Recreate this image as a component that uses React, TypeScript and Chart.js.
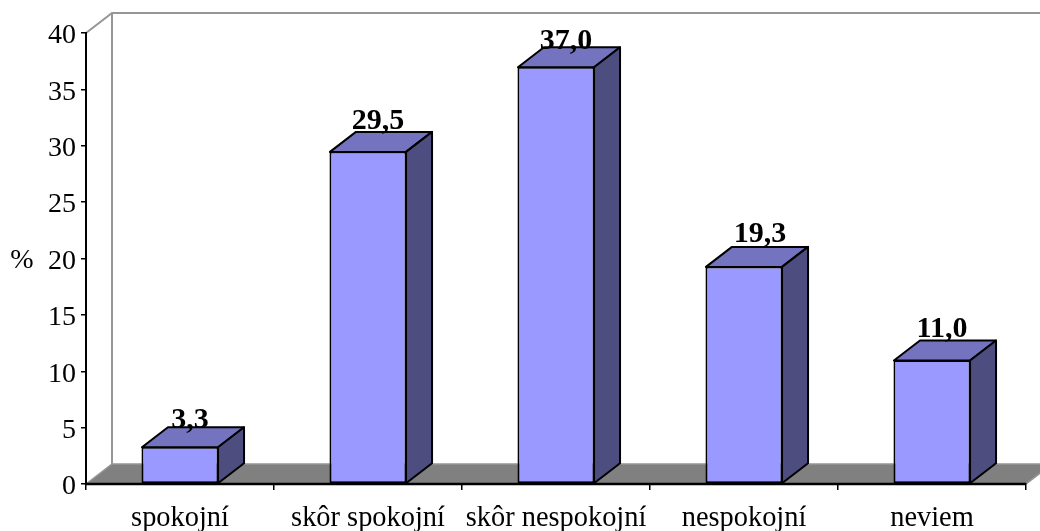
import React, { useEffect, useRef } from "react";
import { Chart, registerables } from "chart.js";

Chart.register(...registerables);

const categories = ["spokojní", "skôr spokojní", "skôr nespokojní", "nespokojní", "neviem"];
const values = [3.3, 29.5, 37.0, 19.3, 11.0];
const valueLabels = ["3,3", "29,5", "37,0", "19,3", "11,0"];
const yAxisLabel = "%";

const FONT = '"Liberation Serif", "Times New Roman", serif';
const DX = 26;
const DY = 20;
const LABEL_NUDGE_X = [10, 10, 10, 16, 10];
const LABEL_NUDGE_Y = [0, -3, 1, -5, -4];

const wallPlugin = {
  id: "wall3d",
  beforeDraw(chart: any) {
    const { ctx, chartArea: a, width } = chart;
    ctx.save();
    ctx.beginPath();
    ctx.moveTo(a.left, a.bottom);
    ctx.lineTo(a.left + DX, a.bottom - DY);
    ctx.lineTo(a.right + DX, a.bottom - DY);
    ctx.lineTo(a.right, a.bottom);
    ctx.closePath();
    ctx.fillStyle = "#808080";
    ctx.fill();
    ctx.strokeStyle = "#969696";
    ctx.lineWidth = 1.5;
    ctx.stroke();
    ctx.strokeStyle = "#969696";
    ctx.lineWidth = 2;
    ctx.beginPath();
    ctx.moveTo(a.left, a.top);
    ctx.lineTo(a.left + DX, a.top - DY);
    ctx.lineTo(width, a.top - DY);
    ctx.moveTo(a.left + DX, a.top - DY);
    ctx.lineTo(a.left + DX, a.bottom - DY);
    ctx.stroke();
    ctx.restore();
  },
};

const barPlugin = {
  id: "bar3d",
  afterDatasetsDraw(chart: any) {
    const { ctx, chartArea: a } = chart;
    const bars = chart.getDatasetMeta(0).data;
    ctx.save();
    ctx.lineJoin = "round";
    ctx.lineWidth = 2;
    ctx.strokeStyle = "#000";
    bars.forEach((b: any) => {
      const l = b.x - b.width / 2 + 0.5;
      const r = b.x + b.width / 2 - 0.5;
      const t = b.y + 0.5;
      const bottom = b.base;
      ctx.beginPath();
      ctx.moveTo(l, t);
      ctx.lineTo(l + DX, t - DY);
      ctx.lineTo(r + DX, t - DY);
      ctx.lineTo(r, t);
      ctx.closePath();
      ctx.fillStyle = "#7373BF";
      ctx.fill();
      ctx.stroke();
      ctx.beginPath();
      ctx.moveTo(r, t);
      ctx.lineTo(r + DX, t - DY);
      ctx.lineTo(r + DX, bottom - DY);
      ctx.lineTo(r, bottom);
      ctx.closePath();
      ctx.fillStyle = "#4D4D80";
      ctx.fill();
      ctx.stroke();
    });
    // axis baseline stays on top of the bars
    ctx.beginPath();
    ctx.moveTo(a.left, a.bottom);
    ctx.lineTo(a.right, a.bottom);
    ctx.lineWidth = 2.5;
    ctx.stroke();
    bars.forEach((b: any, i: number) => {
      ctx.fillStyle = "#000";
      ctx.font = `bold 30px ${FONT}`;
      ctx.textAlign = "center";
      ctx.textBaseline = "alphabetic";
      ctx.fillText(valueLabels[i], b.x + LABEL_NUDGE_X[i], b.y - DY + 1 + LABEL_NUDGE_Y[i]);
    });
    ctx.font = `28px ${FONT}`;
    ctx.fillStyle = "#000";
    ctx.textAlign = "center";
    ctx.textBaseline = "middle";
    ctx.fillText(yAxisLabel, 22, chart.scales.y.getPixelForValue(20) + 2);
    ctx.restore();
  },
};

export default function App() {
  const ref = useRef<HTMLCanvasElement>(null);
  useEffect(() => {
    const chart = new Chart(ref.current!, {
      type: "bar",
      data: {
        labels: categories,
        datasets: [
          {
            data: values,
            backgroundColor: "#9999FF",
            borderColor: "#000",
            borderWidth: 2,
            borderSkipped: false,
            barPercentage: 0.41,
            categoryPercentage: 1,
          },
        ],
      },
      options: {
        responsive: false,
        animation: false,
        layout: { padding: { top: 33, right: 14, left: 0, bottom: 0 } },
        plugins: { legend: { display: false }, tooltip: { enabled: false } },
        scales: {
          x: {
            afterFit: (s: any) => { s.height = 47; },
            grid: { drawOnChartArea: false, color: "#000", tickLength: 6, lineWidth: 1.5, offset: true },
            border: { color: "#000", width: 2 },
            ticks: { color: "#000", font: { family: FONT, size: 28.4 }, padding: 12, maxRotation: 0, autoSkip: false },
          },
          y: {
            min: 0,
            max: 40,
            afterFit: (s: any) => { s.width = 86; },
            grid: { drawOnChartArea: false, color: "#000", tickLength: 5, lineWidth: 1.5 },
            border: { color: "#000", width: 2 },
            ticks: { stepSize: 5, color: "#000", font: { family: FONT, size: 28 }, padding: 5, labelOffset: 3 },
          },
        },
      },
      plugins: [wallPlugin, barPlugin],
    } as any);
    return () => chart.destroy();
  }, []);
  return (
    <canvas
      ref={ref}
      width={1040}
      height={531}
      style={{ position: "fixed", left: 0, top: 0, width: 1040, height: 531 }}
    />
  );
}
